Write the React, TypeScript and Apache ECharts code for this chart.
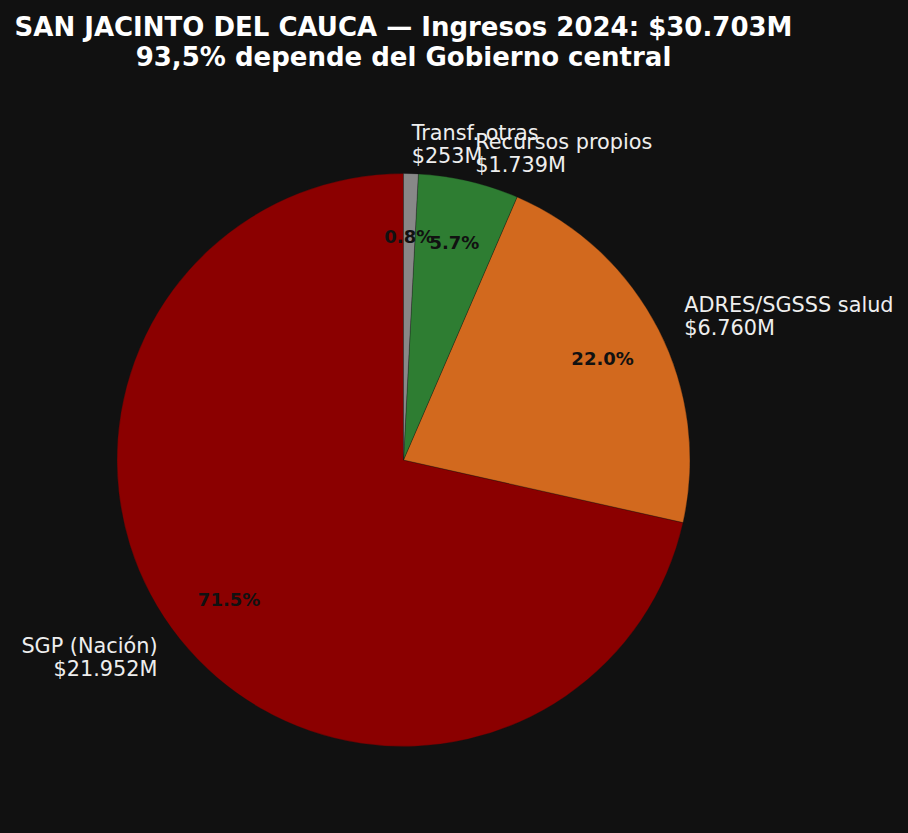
import React, { useEffect, useRef } from "react";
import * as echarts from "echarts";

const categories = ["SGP (Nación)", "ADRES/SGSSS salud", "Recursos propios", "Transf. otras"];
const values = [21952, 6760, 1739, 253];
const valueLabels = ["$21.952M", "$6.760M", "$1.739M", "$253M"];
const colors = ["#8B0000", "#D2691E", "#2E7D32", "#888888"];
const titleLines = ["SAN JACINTO DEL CAUCA — Ingresos 2024: $30.703M", "93,5% depende del Gobierno central"];

const W = 908;
const H = 833;
const CX = 403.5;
const CY = 460;
const R = 286.5;
const START = 90;
const LABEL_DIST = 1.1;
const PCT_DIST = 0.78;
const FONT = "'DejaVu Sans', sans-serif";

export default function App() {
  const ref = useRef<HTMLDivElement>(null);
  useEffect(() => {
    if (!ref.current) return;
    document.body.style.margin = "0";
    document.body.style.background = "#111111";
    const chart = echarts.init(ref.current, undefined, { renderer: "svg" });
    const total = values.reduce((a, b) => a + b, 0);
    const graphics: any[] = [];
    let acc = START;
    values.forEach((v, i) => {
      const span = (v / total) * 360;
      const mid = acc + span / 2;
      acc += span;
      const rad = (mid * Math.PI) / 180;
      const dx = Math.cos(rad);
      const dy = -Math.sin(rad);
      graphics.push({
        type: "text",
        x: CX + dx * R * LABEL_DIST,
        y: CY + dy * R * LABEL_DIST,
        silent: true,
        style: {
          text: categories[i] + "\n" + valueLabels[i],
          fill: "#eeeeee",
          font: "20.8px " + FONT,
          align: dx < 0 ? "right" : "left",
          verticalAlign: "middle",
          lineHeight: 23,
        },
      });
      graphics.push({
        type: "text",
        x: CX + dx * R * PCT_DIST,
        y: CY + dy * R * PCT_DIST,
        silent: true,
        z: 10,
        style: {
          text: ((v / total) * 100).toFixed(1) + "%",
          fill: "#111111",
          font: "bold 18px " + FONT,
          align: "center",
          verticalAlign: "middle",
        },
      });
    });
    graphics.push({
      type: "text",
      x: CX,
      y: 42,
      silent: true,
      style: {
        text: titleLines.join("\n"),
        fill: "#ffffff",
        font: "bold 26px " + FONT,
        align: "center",
        verticalAlign: "middle",
        lineHeight: 30,
      },
    });
    chart.setOption({
      animation: false,
      backgroundColor: "#111111",
      series: [
        {
          type: "pie",
          center: [CX, CY],
          radius: [0, R],
          startAngle: START,
          clockwise: false,
          silent: true,
          label: { show: false },
          labelLine: { show: false },
          itemStyle: { borderColor: "#111111", borderWidth: 0.3 },
          data: values.map((v, i) => ({ name: categories[i], value: v, itemStyle: { color: colors[i] } })),
        },
      ],
      graphic: graphics,
    });
    return () => chart.dispose();
  }, []);
  return <div ref={ref} style={{ position: "fixed", left: 0, top: 0, width: W, height: H }} />;
}
